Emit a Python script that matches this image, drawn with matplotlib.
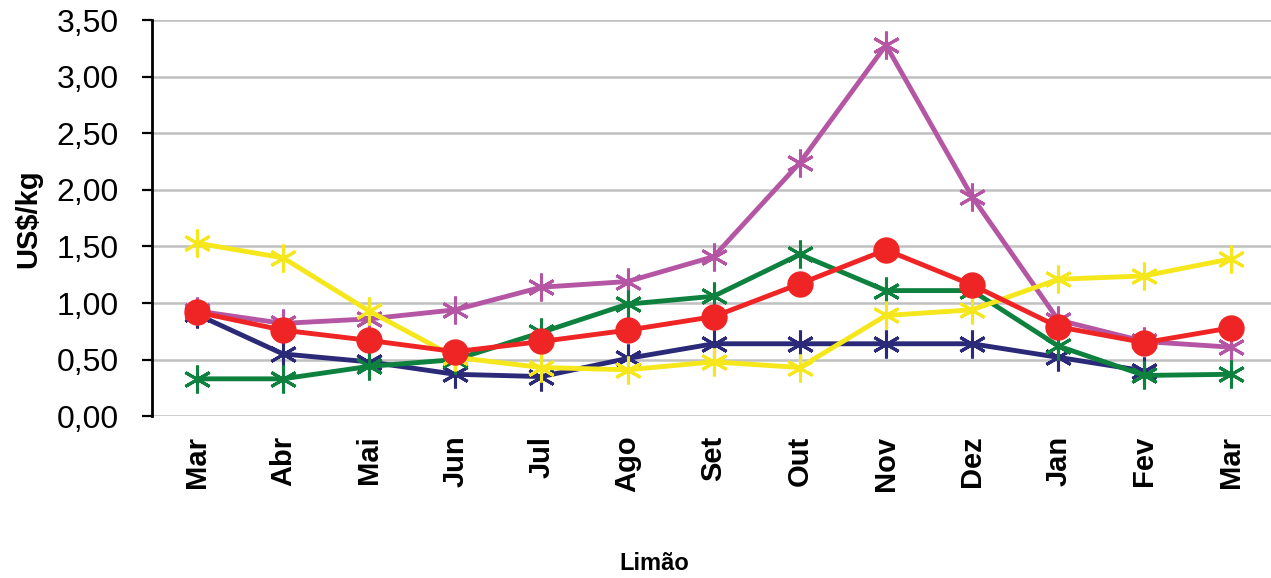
import numpy as np
import matplotlib.pyplot as plt
from matplotlib.ticker import FuncFormatter

plt.rcParams['font.family'] = ['Liberation Sans', 'DejaVu Sans']

# meses (mar a mar)
meses = ['Mar', 'Abr', 'Mai', 'Jun', 'Jul', 'Ago', 'Set', 'Out', 'Nov', 'Dez', 'Jan', 'Fev', 'Mar']

# preços em US$/kg por série
azul = [0.90, 0.55, 0.48, 0.37, 0.35, 0.51, 0.64, 0.64, 0.64, 0.64, 0.52, 0.40, np.nan]
roxo = [0.93, 0.82, 0.86, 0.94, 1.14, 1.19, 1.41, 2.24, 3.28, 1.94, 0.85, 0.66, 0.61]
verde = [0.33, 0.33, 0.44, 0.50, 0.74, 0.99, 1.06, 1.43, 1.11, 1.11, 0.62, 0.36, 0.37]
amarelo = [1.53, 1.40, 0.93, 0.52, 0.43, 0.41, 0.48, 0.43, 0.89, 0.94, 1.21, 1.24, 1.39]
vermelho = [0.92, 0.76, 0.67, 0.57, 0.66, 0.76, 0.88, 1.17, 1.47, 1.16, 0.79, 0.65, 0.78]

x = np.arange(len(meses))
asterisco = (6, 2, 0)

fig = plt.figure(figsize=(12.71, 5.78), dpi=100)
ax = fig.add_axes([0.1196, 0.28, 0.8804, 0.685])

ax.yaxis.grid(True, color='#c0c0c0', linewidth=1.8, zorder=0)
ax.set_axisbelow(True)

estilo = dict(linewidth=3.5, markersize=20, markeredgewidth=2.2)
ax.plot(x, azul, color='#2a2a78', marker=asterisco, zorder=3, **estilo)
ax.plot(x, roxo, color='#b556a4', marker=asterisco, zorder=4, **estilo)
ax.plot(x, verde, color='#0e813f', marker=asterisco, zorder=5, **estilo)
ax.plot(x, amarelo, color='#f6e71c', marker=asterisco, zorder=6, **estilo)
ax.plot(x, vermelho, color='#ee2524', marker='o', linewidth=3.5, markersize=18, zorder=7)

ax.set_ylim(0, 3.5)
ax.set_yticks(np.arange(0, 3.51, 0.5))
ax.yaxis.set_major_formatter(FuncFormatter(lambda v, p: f'{v:.2f}'.replace('.', ',')))
ax.set_xlim(-0.52, 12.47)
ax.set_xticks(x)
ax.set_xticklabels(meses, rotation=90, fontsize=21, fontweight='bold')

ax.tick_params(axis='y', labelsize=23, length=7, width=1.6, direction='out', pad=17)
ax.tick_params(axis='x', length=0, pad=14)

for s in ['top', 'right', 'bottom']:
    ax.spines[s].set_visible(False)
ax.spines['left'].set_linewidth(2)

ax.set_ylabel('US$/kg', fontsize=21, fontweight='bold')
ax.yaxis.set_label_coords(-0.098, 0.5)
fig.text(654 / 1271, 1 - 563 / 578, 'Limão', ha='center', va='center',
         fontsize=17, fontweight='bold')

fig.savefig('out.png', dpi=100)
